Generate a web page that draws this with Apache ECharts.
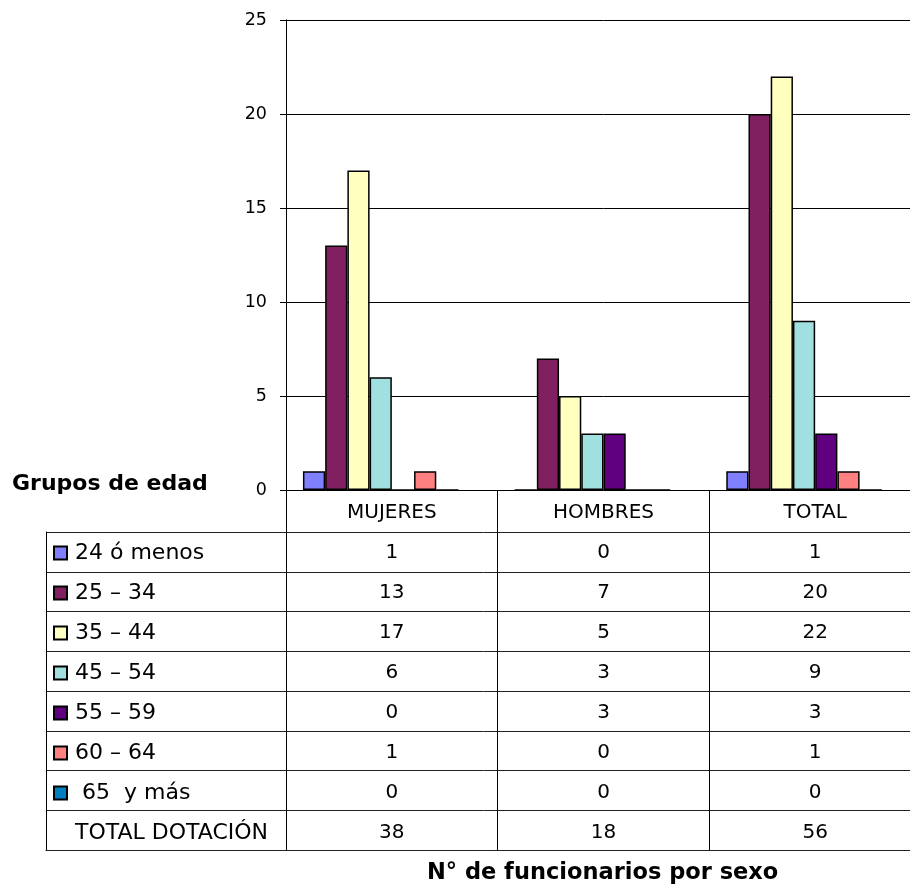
<!DOCTYPE html>
<html>
<head>
<meta charset="utf-8">
<script src="https://cdn.jsdelivr.net/npm/echarts@6/dist/echarts.min.js"></script>
<style>
html,body{margin:0;padding:0;background:#fff;overflow:hidden;width:910px;height:887px;}
#c{width:921px;height:887px;}
</style>
</head>
<body>
<div id="c"></div>
<script>
var categories = ['MUJERES', 'HOMBRES', 'TOTAL'];
var seriesNames = ['24 ó menos', '25 – 34', '35 – 44', '45 – 54', '55 – 59', '60 – 64', ' 65  y más'];
var v24 = [1, 0, 1];
var v25 = [13, 7, 20];
var v35 = [17, 5, 22];
var v45 = [6, 3, 9];
var v55 = [0, 3, 3];
var v60 = [1, 0, 1];
var v65 = [0, 0, 0];
var totalName = 'TOTAL DOTACIÓN';
var totalDotacion = [38, 18, 56];
var yTicks = [0, 5, 10, 15, 20, 25];
var colors = ['#8080FF', '#802060', '#FFFFC0', '#A0E0E0', '#600080', '#FF8080', '#0080C0'];

var values = [v24, v25, v35, v45, v55, v60, v65];
var FONT = 'DejaVu Sans';

var series = values.map(function (vals, i) {
  return {
    name: seriesNames[i],
    type: 'bar',
    data: vals,
    barGap: '0%',
    barCategoryGap: '16%',
    itemStyle: { color: colors[i], borderColor: '#000', borderWidth: 1.5 },
    emphasis: { disabled: true }
  };
});
series.push({
  name: totalName,
  type: 'bar',
  data: totalDotacion,
  barGap: '0%',
  barCategoryGap: '16%',
  clip: true,
  itemStyle: { color: 'rgba(0,0,0,0)', borderWidth: 0 },
  emphasis: { disabled: true }
});

function tableColumn(value, idx) {
  var lines = [value];
  values.forEach(function (arr) { lines.push(String(arr[idx])); });
  lines.push(String(totalDotacion[idx]));
  return lines.join('\n');
}

var chart = echarts.init(document.getElementById('c'), null, { renderer: 'canvas' });
chart.setOption({
  animation: false,
  backgroundColor: '#fff',
  textStyle: { fontFamily: FONT },
  title: [
    { text: 'Grupos de edad', left: 12, top: 473, padding: 0,
      textStyle: { fontFamily: FONT, fontSize: 22, fontWeight: 'bold', color: '#000' } },
    { text: 'N° de funcionarios por sexo', left: 427, top: 862, padding: 0,
      textStyle: { fontFamily: FONT, fontSize: 22.5, fontWeight: 'bold', color: '#000' } }
  ],
  legend: {
    orient: 'vertical',
    left: 53,
    top: 533,
    padding: 0,
    itemGap: 0,
    itemWidth: 13,
    itemHeight: 13,
    icon: 'rect',
    selectedMode: false,
    data: seriesNames.concat([totalName]),
    textStyle: { fontFamily: FONT, fontSize: 22, color: '#000', lineHeight: 40, padding: [0, 0, 0, 3] }
  },
  grid: [
    { left: 286, top: 20, right: 0, height: 470 },
    { left: 46, top: 532, right: 0, height: 318 }
  ],
  xAxis: [
    {
      type: 'category',
      gridIndex: 0,
      data: categories,
      axisLine: { show: true, lineStyle: { color: '#000', width: 1 } },
      axisTick: { show: true, length: 360, lineStyle: { color: '#000', width: 1 } },
      axisLabel: {
        interval: 0,
        margin: 3,
        fontFamily: FONT,
        fontSize: 20,
        lineHeight: 40,
        color: '#000',
        formatter: tableColumn
      },
      splitLine: { show: false }
    },
    {
      type: 'value',
      gridIndex: 1,
      min: 0, max: 1,
      axisLine: { show: true, onZero: false, lineStyle: { color: '#222', width: 1 } },
      axisTick: { show: false },
      axisLabel: { show: false },
      splitLine: { show: false }
    }
  ],
  yAxis: [
    {
      type: 'value',
      gridIndex: 0,
      min: yTicks[0],
      max: yTicks[yTicks.length - 1],
      interval: 5,
      axisLine: { show: true, lineStyle: { color: '#000', width: 1 } },
      axisTick: { show: true, length: 6, lineStyle: { color: '#000', width: 1 } },
      axisLabel: { fontFamily: FONT, fontSize: 17.5, color: '#000', margin: 19 },
      splitLine: { show: true, lineStyle: { color: '#000', width: 1 } }
    },
    {
      type: 'value',
      gridIndex: 1,
      min: 0, max: 8, interval: 1,
      axisLine: { show: true, onZero: false, lineStyle: { color: '#000', width: 1 } },
      axisTick: { show: false },
      axisLabel: { show: false },
      splitLine: { show: true, lineStyle: { color: '#222', width: 1 } }
    }
  ],
  series: series
});
</script>
</body>
</html>
